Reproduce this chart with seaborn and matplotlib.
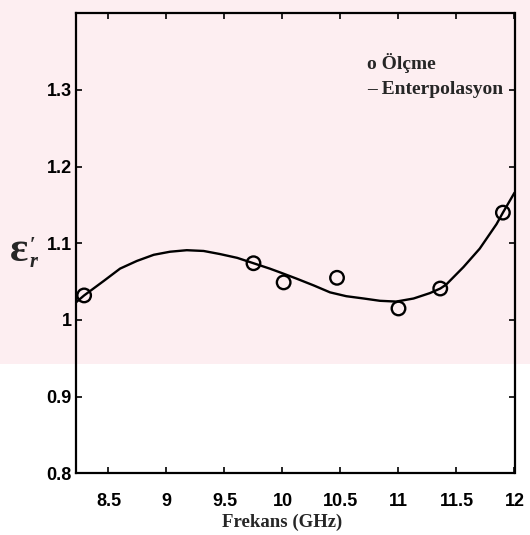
import matplotlib
matplotlib.use("Agg")
import matplotlib.pyplot as plt
from matplotlib.patches import Rectangle
import seaborn as sns
import pandas as pd

# ---- data ----
meas_freq = [8.29, 9.75, 10.01, 10.47, 11.00, 11.36, 11.90]
meas_eps = [1.032, 1.074, 1.049, 1.055, 1.015, 1.041, 1.140]

interp_freq = [8.22, 8.29, 8.46, 8.60, 8.745, 8.89, 9.03, 9.175, 9.32, 9.46,
               9.61, 9.75, 9.89, 9.98, 10.12, 10.27, 10.41, 10.55, 10.70,
               10.84, 10.98, 11.13, 11.27, 11.36, 11.41, 11.56, 11.70,
               11.845, 11.90, 12.0]
interp_eps = [1.023, 1.032, 1.051, 1.067, 1.077, 1.085, 1.089, 1.091, 1.090,
              1.086, 1.081, 1.074, 1.067, 1.062, 1.054, 1.045, 1.036, 1.031,
              1.028, 1.025, 1.024, 1.028, 1.035, 1.041, 1.046, 1.069, 1.093,
              1.125, 1.140, 1.166]

x_ticks = [8.5, 9, 9.5, 10, 10.5, 11, 11.5, 12]
x_tick_labels = ["8.5", "9", "9.5", "10", "10.5", "11", "11.5", "12"]
y_ticks = [0.8, 0.9, 1.0, 1.1, 1.2, 1.3]
y_tick_labels = ["0.8", "0.9", "1", "1.1", "1.2", "1.3"]

legend_lines = ["o Ölçme", "– Enterpolasyon"]
x_label = "Frekans (GHz)"
y_label_parts = ["ε", r"${}^{\prime}_{r}$"]   # ε'_r

sns.set_theme(style="ticks")
plt.rcParams["font.family"] = ["Liberation Sans", "DejaVu Sans"]
plt.rcParams["mathtext.fontset"] = "custom"
plt.rcParams["mathtext.rm"] = "Liberation Serif:bold"
plt.rcParams["mathtext.it"] = "Liberation Serif:italic:bold"
plt.rcParams["mathtext.bf"] = "Liberation Serif:bold"

fig = plt.figure(figsize=(5.3, 5.35), dpi=100, facecolor="white")
# light pink tint of the scanned page (watermark area)
fig.patches.append(Rectangle((0, 1 - 364 / 535), 1, 364 / 535,
                             transform=fig.transFigure, facecolor="#fdeef1",
                             edgecolor="none", zorder=-10))
ax = fig.add_axes([76 / 530, 1 - 473.3 / 535, 438.5 / 530, 460 / 535])
ax.set_facecolor("none")

df_line = pd.DataFrame({"f": interp_freq, "e": interp_eps})
df_pts = pd.DataFrame({"f": meas_freq, "e": meas_eps})

sns.lineplot(data=df_line, x="f", y="e", ax=ax, color="black", linewidth=1.7,
             zorder=2)
sns.scatterplot(data=df_pts, x="f", y="e", ax=ax, marker="o", s=95,
                facecolor="none", edgecolor="black", linewidth=1.7, zorder=3)

ax.set_xlim(8.22, 12.0)
ax.set_ylim(0.8, 1.4)
ax.set_xticks(x_ticks)
ax.set_xticklabels(x_tick_labels, fontsize=13, fontweight="bold")
ax.set_yticks(y_ticks)
ax.set_yticklabels(y_tick_labels, fontsize=13, fontweight="bold")
ax.tick_params(axis="both", direction="in", length=4, width=1.2,
               top=True, right=True, colors="black")
ax.tick_params(axis="x", pad=14)
ax.tick_params(axis="y", pad=3)
for s in ax.spines.values():
    s.set_visible(True)
    s.set_linewidth(1.6)
    s.set_color("black")

ax.set_xlabel(x_label, fontsize=13.5, family="Liberation Serif",
              fontweight="bold", labelpad=0)
ax.xaxis.set_label_coords(0.47, -0.088)
ax.set_ylabel("")

# y label  ε'_r
serif = ["Liberation Serif", "DejaVu Serif"]
ax.text(-0.1305, 0.483, y_label_parts[0], transform=ax.transAxes,
        fontsize=31, family=serif, fontweight="bold", ha="center",
        va="center")
ax.text(-0.108, 0.478, y_label_parts[1], transform=ax.transAxes,
        fontsize=21, ha="left", va="center")

ax.text(0.663, 0.892, legend_lines[0], transform=ax.transAxes,
        fontsize=14, family="Liberation Serif", fontweight="bold",
        ha="left", va="center")
ax.text(0.663, 0.835, legend_lines[1], transform=ax.transAxes,
        fontsize=14, family="Liberation Serif", fontweight="bold",
        ha="left", va="center")

fig.savefig("out.png", dpi=100, facecolor="white")
